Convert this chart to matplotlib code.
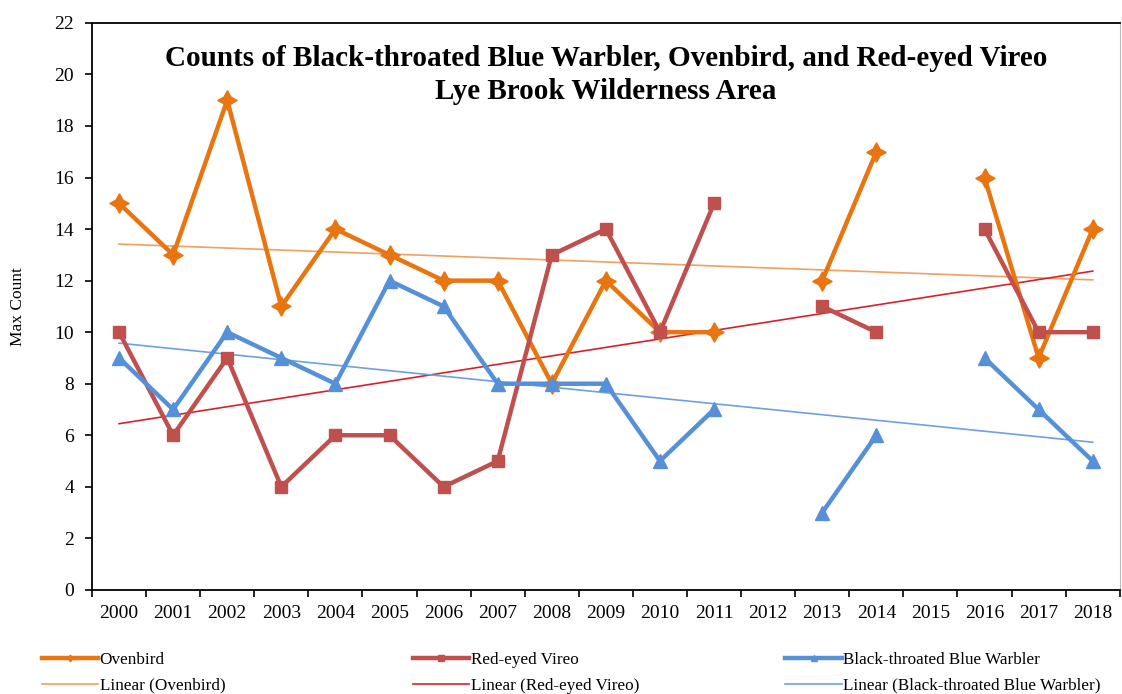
import numpy as np
import matplotlib
matplotlib.use('Agg')
import matplotlib.pyplot as plt

plt.rcParams['font.family'] = 'Liberation Serif'

# Data set
years = ['2000', '2001', '2002', '2003', '2004', '2005', '2006', '2007', '2008', '2009',
         '2010', '2011', '2012', '2013', '2014', '2015', '2016', '2017', '2018']
nan = np.nan
ovenbird = [15, 13, 19, 11, 14, 13, 12, 12, 8, 12, 10, 10, nan, 12, 17, nan, 16, 9, 14]
vireo = [10, 6, 9, 4, 6, 6, 4, 5, 13, 14, 10, 15, nan, 11, 10, nan, 14, 10, 10]
warbler = [9, 7, 10, 9, 8, 12, 11, 8, 8, 8, 5, 7, nan, 3, 6, nan, 9, 7, 5]

c_oven = '#E8750F'
c_vireo = '#C0504D'
c_warb = '#5590D8'
c_oven_t = '#F0A060'
c_vireo_t = '#D8202A'
c_warb_t = '#6FA0E0'

fig = plt.figure(figsize=(11.22, 6.94), dpi=100)
ax = fig.add_axes([0.082, 0.150, 0.916, 0.817])

x = np.arange(1, len(years) + 1)
star = (4, 1, 0)

series = [
    ('Ovenbird', ovenbird, c_oven, c_oven_t, star, 14),
    ('Red-eyed Vireo', vireo, c_vireo, c_vireo_t, 's', 8.5),
    ('Black-throated Blue Warbler', warbler, c_warb, c_warb_t, '^', 10),
]

handles = []
for name, vals, col, tcol, mk, ms in series:
    y = np.array(vals, dtype=float)
    h, = ax.plot(x, y, color=col, lw=3.2, marker=mk, ms=ms, mec=col, mfc=col,
                 label=name, zorder=3)
    ok = ~np.isnan(y)
    p = np.polyfit(x[ok], y[ok], 1)
    t, = ax.plot(x, np.polyval(p, x), color=tcol, lw=1.2, label='Linear (%s)' % name, zorder=2)
    handles.append((h, t))

ax.set_xlim(0.5, len(years) + 0.5)
ax.set_ylim(0, 22)
ax.set_yticks(np.arange(0, 23, 2))
ax.set_xticks(np.arange(0.5, len(years) + 1, 1))
ax.set_xticklabels([])
ax.set_xticks(x, minor=True)
ax.set_xticklabels(years, minor=True)
ax.tick_params(axis='x', which='minor', length=0, labelsize=14, pad=11)
ax.tick_params(axis='x', which='major', length=5, width=1.2, direction='out')
ax.tick_params(axis='y', length=5, width=1.2, direction='out', labelsize=14, pad=8)
ax.set_ylabel('Max Count', fontsize=12.5, labelpad=20)
for s in ['left', 'bottom', 'top']:
    ax.spines[s].set_linewidth(1.3)
ax.spines['right'].set_color('#BBBBBB')

ax.text(0.5, 0.937, 'Counts of Black-throated Blue Warbler, Ovenbird, and Red-eyed Vireo',
        transform=ax.transAxes, ha='center', va='center', fontsize=21, fontweight='bold')
ax.text(0.5, 0.879, 'Lye Brook Wilderness Area',
        transform=ax.transAxes, ha='center', va='center', fontsize=21, fontweight='bold')

xs = [0.037, 0.368, 0.700]
for (h, t), xx in zip(handles, xs):
    leg = fig.legend(handles=[h, t], loc='upper left', bbox_to_anchor=(xx, 0.06),
                     frameon=False, fontsize=12.3, handlelength=3.3, handletextpad=0.1,
                     labelspacing=0.55, borderaxespad=0, borderpad=0)
    for lh in leg.legend_handles:
        lh.set_markersize(5)

plt.savefig('out.png', dpi=100)
plt.close()
